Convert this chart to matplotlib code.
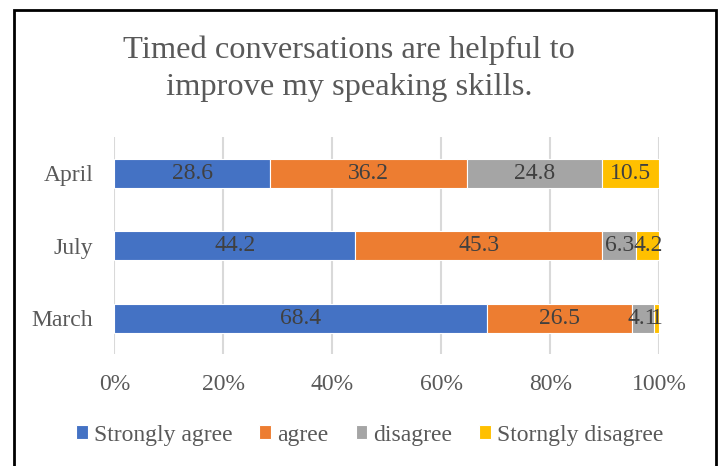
import numpy as np
import matplotlib
matplotlib.use('Agg')
import matplotlib.pyplot as plt
from matplotlib.patches import Rectangle

plt.rcParams['font.family'] = ['Liberation Serif', 'DejaVu Serif']

# Categories drawn bottom to top
months = ['March', 'July', 'April']
series_names = ['Strongly agree', 'agree', 'disagree', 'Storngly disagree']
strongly_agree = [68.4, 44.2, 28.6]
agree = [26.5, 45.3, 36.2]
disagree = [4.1, 6.3, 24.8]
strongly_disagree = [1, 4.2, 10.5]
x_ticks = [0, 20, 40, 60, 80, 100]
x_tick_labels = ['0%', '20%', '40%', '60%', '80%', '100%']

colors = ['#4472C4', '#ED7D31', '#A5A5A5', '#FFC000']
text_col = '#595959'
label_col = '#404040'

fig = plt.figure(figsize=(7.18, 4.66), dpi=100)
ax = fig.add_axes([0.1592, 0.2393, 0.7591, 0.4667])

data = np.array([strongly_agree, agree, disagree, strongly_disagree], dtype=float)
# 100% stacked: normalise each month to its total
pct = data / data.sum(axis=0) * 100
y = np.arange(len(months))
left = np.zeros(len(months))
for i, name in enumerate(series_names):
    bars = ax.barh(y, pct[i], left=left, height=0.4, color=colors[i],
                   edgecolor='white', linewidth=0.8, label=name, zorder=3)
    for j, b in enumerate(bars):
        cx = left[j] + pct[i][j] / 2
        ax.text(cx, y[j], f'{data[i][j]:g}', ha='center', va='center',
                fontsize=17, color=label_col, zorder=4)
    left += pct[i]

ax.set_xlim(0, 100)
ax.set_ylim(-0.5, len(months) - 0.5)
ax.set_xticks(x_ticks)
ax.set_xticklabels(x_tick_labels)
ax.set_yticks(y)
ax.set_yticklabels(months)
ax.tick_params(axis='both', length=0, labelsize=17, labelcolor=text_col)
ax.tick_params(axis='x', pad=14)
ax.tick_params(axis='y', pad=15)
ax.grid(axis='x', color='#D9D9D9', linewidth=1.5, zorder=0)
for s in ax.spines.values():
    s.set_visible(False)

fig.text(0.486, 0.852, 'Timed conversations are helpful to\nimprove my speaking skills.',
         ha='center', va='center', fontsize=23.4, color=text_col, linespacing=1.37)

fig.legend(loc='center', bbox_to_anchor=(0.515, 0.0665), ncol=4, frameon=False,
           fontsize=17, labelcolor=text_col, handlelength=0.5, handleheight=0.5,
           handletextpad=0.25, columnspacing=1.15, borderpad=0)

fig.patches.append(Rectangle((14 / 718, -0.05), 702 / 718, 1.05 - 10 / 466,
                             transform=fig.transFigure, fill=False,
                             edgecolor='black', linewidth=2, clip_on=False))

fig.savefig('out.png', dpi=100)
